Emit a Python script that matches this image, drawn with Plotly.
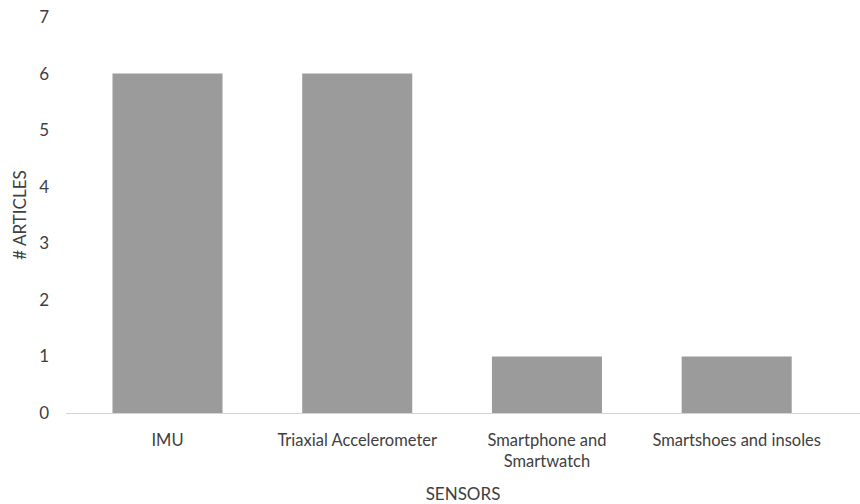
import plotly.graph_objects as go

sensors = ["IMU", "Triaxial Accelerometer", "Smartphone and<br>Smartwatch", "Smartshoes and insoles"]
articles = [6, 6, 1, 1]
y_ticks = [0, 1, 2, 3, 4, 5, 6, 7]

text_color = "#404040"
font_family = "Lato, 'Open Sans', sans-serif"

fig = go.Figure(
    go.Bar(
        x=list(range(len(sensors))),
        y=articles,
        width=0.58,
        marker=dict(color="#9b9b9b", line=dict(width=0)),
    )
)

fig.update_layout(
    width=860,
    height=504,
    margin=dict(l=66, r=0, t=17, b=91),
    paper_bgcolor="white",
    plot_bgcolor="white",
    showlegend=False,
    font=dict(family=font_family, color=text_color, size=16),
    xaxis=dict(
        range=[-0.535, 3.65],
        tickmode="array",
        tickvals=list(range(len(sensors))),
        ticktext=sensors,
        showgrid=False,
        zeroline=False,
        showline=True,
        linecolor="#d4d4d4",
        linewidth=1,
        ticks="",
        ticklabelstandoff=12,
        tickfont=dict(size=16.5, color=text_color),
        title=dict(text="SENSORS", font=dict(size=17, color=text_color), standoff=22),
    ),
    yaxis=dict(
        range=[0, 7],
        tickmode="array",
        tickvals=y_ticks,
        showgrid=False,
        zeroline=False,
        showline=False,
        ticks="",
        ticklabelstandoff=16,
        tickfont=dict(size=17, color=text_color),
        title=dict(text="# ARTICLES", font=dict(size=17, color=text_color), standoff=8),
    ),
)

fig.write_html("out.html")
